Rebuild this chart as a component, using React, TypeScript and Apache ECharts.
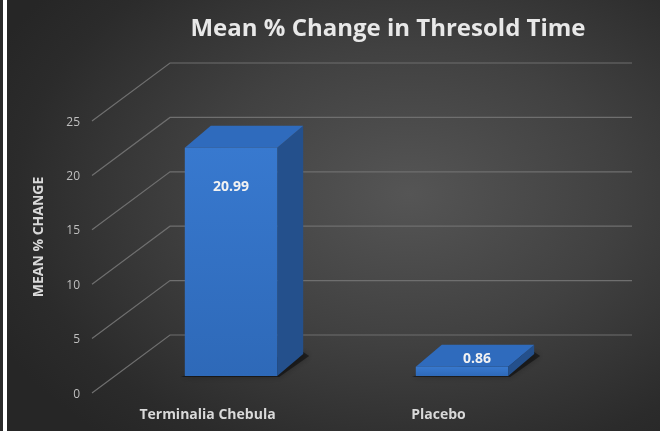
import React, { useEffect, useRef } from "react";
import * as echarts from "echarts";

const categories = ["Terminalia Chebula", "Placebo"];
const values = [20.99, 0.86];
const yTicks = [0, 5, 10, 15, 20, 25];
const titleText = "Mean % Change in Thresold Time";
const yAxisName = "MEAN % CHANGE";

const FONT = "'Open Sans', 'DejaVu Sans', sans-serif";
// depth offsets (px) of the 3D look
const WALL_DX = 78;
const WALL_DY = -58;
const BAR_OFF_X = 23.5;
const BAR_OFF_Y = -17;
const BAR_DX = 26;
const BAR_DY = -22;

export default function App() {
  const ref = useRef<HTMLDivElement>(null);

  useEffect(() => {
    if (!ref.current) return;
    const chart = echarts.init(ref.current, null, { renderer: "svg" });

    const option: any = {
      animation: false,
      backgroundColor: "transparent",
      title: {
        text: titleText,
        left: 383,
        textAlign: "center",
        top: 9,
        textStyle: { color: "#e8e8e8", fontSize: 24, fontWeight: "bold", fontFamily: FONT },
      },
      grid: { left: 92, right: 106, top: 121, bottom: 38 },
      xAxis: {
        type: "category",
        data: categories,
        axisLine: { show: false },
        axisTick: { show: false },
        splitLine: { show: false },
        axisLabel: { color: "#d9d9d9", fontSize: 14, fontWeight: "bold", margin: 13, fontFamily: FONT },
      },
      yAxis: {
        type: "value",
        min: 0,
        max: 25,
        interval: 5,
        axisLine: { show: false },
        axisTick: { show: false },
        splitLine: { show: false },
        axisLabel: { color: "#bfbfbf", fontSize: 12, margin: 12, fontFamily: FONT },
      },
      graphic: [
        {
          type: "text",
          x: 37,
          y: 237,
          rotation: Math.PI / 2,
          style: {
            text: yAxisName,
            fill: "#d9d9d9",
            fontSize: 14,
            fontWeight: "bold",
            fontFamily: FONT,
            textAlign: "center",
            textVerticalAlign: "middle",
          },
        },
      ],
      series: [
        {
          type: "custom",
          silent: true,
          clip: false,
          z: 1,
          data: yTicks.map((v) => [0, v]),
          renderItem: (params: any, api: any) => {
            const v = api.value(1);
            const p = api.coord([0, v]);
            const cs = params.coordSys;
            const x0 = cs.x;
            const y = p[1];
            return {
              type: "polyline",
              shape: {
                points: [
                  [x0, y],
                  [x0 + WALL_DX, y + WALL_DY],
                  [x0 + WALL_DX + cs.width, y + WALL_DY],
                ],
              },
              style: { stroke: "#6f6f6f", lineWidth: 1.2, fill: null },
            };
          },
        },
        {
          type: "custom",
          clip: false,
          z: 2,
          data: values.map((v, i) => [i, v]),
          renderItem: (params: any, api: any) => {
            const i = api.value(0);
            const v = api.value(1);
            const base = api.coord([i, 0]);
            const top = api.coord([i, v]);
            const bw = api.size([1, 0])[0] * 0.4;
            const cx = base[0] + BAR_OFF_X;
            const x1 = cx - bw / 2;
            const x2 = cx + bw / 2;
            const yb = base[1] + BAR_OFF_Y;
            const yt = top[1] + BAR_OFF_Y;
            const h = yb - yt;
            const tall = h > 50;
            const label = v.toFixed(2);
            return {
              type: "group",
              children: [
                {
                  type: "polygon",
                  shape: {
                    points: [
                      [x1 - 4, yb + 1],
                      [x2 + 2, yb + 1],
                      [x2 + BAR_DX + 6, yb + BAR_DY + 2],
                      [x2 + BAR_DX, yb + BAR_DY - 2],
                      [x1 + 4, yb - 2],
                    ],
                  },
                  style: { fill: "rgba(0,0,0,0.45)", shadowBlur: 6, shadowColor: "rgba(0,0,0,0.6)" },
                },
                {
                  type: "polygon",
                  shape: {
                    points: [
                      [x2, yt],
                      [x2 + BAR_DX, yt + BAR_DY],
                      [x2 + BAR_DX, yb + BAR_DY],
                      [x2, yb],
                    ],
                  },
                  style: { fill: "#24508c" },
                },
                {
                  type: "polygon",
                  shape: {
                    points: [
                      [x1, yt],
                      [x1 + BAR_DX, yt + BAR_DY],
                      [x2 + BAR_DX, yt + BAR_DY],
                      [x2, yt],
                    ],
                  },
                  style: { fill: "#2f6bbd" },
                },
                {
                  type: "rect",
                  shape: { x: x1, y: yt, width: bw, height: h },
                  style: {
                    fill: new echarts.graphic.LinearGradient(0, 0, 0, 1, [
                      { offset: 0, color: "#3879cf" },
                      { offset: 1, color: "#2e69b8" },
                    ]),
                  },
                },
                {
                  type: "text",
                  x: tall ? cx : cx + BAR_DX / 2 + 2,
                  y: tall ? yt + 38 : yt + BAR_DY / 2 + 2,
                  style: {
                    text: label,
                    fill: "#f2f2f2",
                    fontSize: 14,
                    fontWeight: "bold",
                    fontFamily: FONT,
                    textAlign: "center",
                    textVerticalAlign: "middle",
                  },
                },
              ],
            };
          },
        },
      ],
    };

    chart.setOption(option);
    return () => chart.dispose();
  }, []);

  return (
    <div
      style={{
        position: "fixed",
        left: 0,
        top: 0,
        width: 660,
        height: 431,
        background:
          "radial-gradient(ellipse 70% 75% at 62% 45%, #555555 0%, #414141 45%, #2b2b2b 85%, #262626 100%)",
        overflow: "hidden",
      }}
    >
      <div style={{ position: "absolute", left: 0, top: 0, width: 3, height: 431, background: "#2b2b2b" }} />
      <div style={{ position: "absolute", left: 3, top: 0, width: 4, height: 431, background: "#ffffff" }} />
      <div ref={ref} style={{ position: "absolute", left: 0, top: 0, width: 660, height: 431 }} />
    </div>
  );
}
